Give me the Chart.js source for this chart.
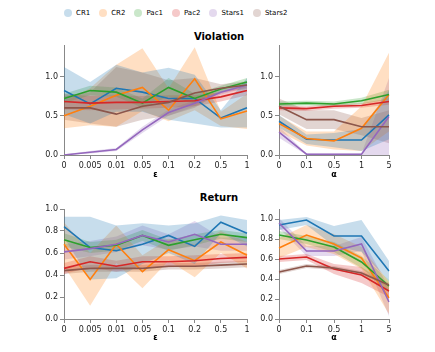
<!DOCTYPE html>
<html>
<head>
<meta charset="utf-8">
<script src="https://cdn.jsdelivr.net/npm/chart.js@4.4.1/dist/chart.umd.min.js"></script>
<style>
  body { margin: 0; background: #fff; font-family: "DejaVu Sans", sans-serif; }
  #wrap { position: relative; width: 435px; height: 352px; }
  canvas { position: absolute; }
  .title { position: absolute; font-weight: bold; font-size: 10px; transform: translateX(-50%); color: #000; }
  #legend { position: absolute; left: 64px; top: 9px; display: flex; font-size: 7px; color: #000; }
  #legend .item { display: flex; align-items: center; margin-right: 9px; }
  #legend .dot { width: 8px; height: 8px; border-radius: 50%; margin-right: 4px; }
</style>
</head>
<body>
<div id="wrap">
  <div id="legend"></div>
  <div class="title" style="left:219px; top:31px;">Violation</div>
  <div class="title" style="left:219px; top:192px;">Return</div>
  <canvas id="violEps" width="240" height="149" style="left:20px; top:35px;"></canvas>
  <canvas id="violAlpha" width="150" height="149" style="left:250px; top:35px;"></canvas>
  <canvas id="retEps" width="240" height="148" style="left:20px; top:199px;"></canvas>
  <canvas id="retAlpha" width="150" height="148" style="left:250px; top:199px;"></canvas>
</div>
<script>
// series, in legend order
const seriesNames = ["CR1", "CR2", "Pac1", "Pac2", "Stars1", "Stars2"];
const seriesColors = ["31,119,180", "255,127,14", "44,160,44", "214,39,40", "148,103,189", "140,86,75"];

const epsLabels = ["0", "0.005", "0.01", "0.05", "0.1", "0.2", "0.5", "1"];
const alphaLabels = ["0", "0.1", "0.5", "1", "5"];

// Violation vs eps
const violEpsMean = [
  [0.82, 0.65, 0.85, 0.80, 0.72, 0.72, 0.47, 0.60],
  [0.50, 0.62, 0.76, 0.86, 0.57, 0.97, 0.46, 0.56],
  [0.72, 0.82, 0.80, 0.66, 0.86, 0.72, 0.84, 0.93],
  [0.68, 0.66, 0.67, 0.67, 0.68, 0.69, 0.74, 0.82],
  [0.00, 0.035, 0.07, 0.32, 0.54, 0.66, 0.80, 0.89],
  [0.60, 0.60, 0.52, 0.62, 0.67, 0.79, 0.85, 0.89]
];
const violEpsLo = [
  [0.52, 0.40, 0.55, 0.55, 0.45, 0.40, 0.35, 0.35],
  [0.34, 0.38, 0.36, 0.56, 0.43, 0.57, 0.37, 0.33],
  [0.66, 0.76, 0.74, 0.60, 0.74, 0.66, 0.80, 0.88],
  [0.58, 0.57, 0.58, 0.59, 0.60, 0.62, 0.68, 0.76],
  [0.00, 0.02, 0.05, 0.28, 0.50, 0.62, 0.77, 0.86],
  [0.45, 0.40, 0.36, 0.45, 0.50, 0.60, 0.80, 0.84]
];
const violEpsHi = [
  [1.12, 0.93, 1.15, 1.05, 1.11, 1.02, 0.57, 0.98],
  [0.68, 0.85, 1.15, 1.36, 0.85, 1.37, 0.55, 0.78],
  [0.78, 0.88, 0.86, 0.72, 0.98, 0.78, 0.88, 0.98],
  [0.78, 0.75, 0.76, 0.75, 0.76, 0.76, 0.80, 0.88],
  [0.01, 0.05, 0.09, 0.36, 0.58, 0.70, 0.83, 0.92],
  [0.75, 0.80, 1.12, 1.05, 0.95, 0.98, 0.90, 0.94]
];

// Violation vs alpha
const violAlphaMean = [
  [0.43, 0.20, 0.19, 0.19, 0.51],
  [0.40, 0.21, 0.18, 0.34, 0.77],
  [0.65, 0.66, 0.65, 0.69, 0.77],
  [0.60, 0.59, 0.62, 0.63, 0.68],
  [0.29, 0.01, 0.01, 0.01, 0.49],
  [0.62, 0.45, 0.45, 0.36, 0.36]
];
const violAlphaLo = [
  [0.35, 0.14, 0.10, 0.05, 0.20],
  [0.30, 0.12, 0.07, 0.05, 0.30],
  [0.62, 0.63, 0.62, 0.65, 0.71],
  [0.57, 0.56, 0.59, 0.60, 0.64],
  [0.22, 0.00, 0.00, 0.00, 0.00],
  [0.52, 0.33, 0.33, 0.25, 0.15]
];
const violAlphaHi = [
  [0.51, 0.26, 0.28, 0.33, 0.82],
  [0.50, 0.30, 0.30, 0.62, 1.30],
  [0.68, 0.69, 0.68, 0.73, 0.83],
  [0.63, 0.62, 0.65, 0.66, 0.72],
  [0.36, 0.02, 0.02, 0.02, 0.98],
  [0.72, 0.57, 0.57, 0.47, 0.57]
];

// Return vs eps
const retEpsMean = [
  [0.84, 0.65, 0.62, 0.68, 0.76, 0.66, 0.88, 0.78],
  [0.68, 0.36, 0.68, 0.43, 0.63, 0.53, 0.70, 0.58],
  [0.72, 0.65, 0.67, 0.76, 0.67, 0.72, 0.77, 0.74],
  [0.46, 0.52, 0.48, 0.52, 0.52, 0.53, 0.55, 0.56],
  [0.61, 0.64, 0.68, 0.76, 0.70, 0.77, 0.68, 0.68],
  [0.44, 0.46, 0.46, 0.46, 0.48, 0.48, 0.49, 0.50]
];
const retEpsLo = [
  [0.74, 0.36, 0.37, 0.50, 0.60, 0.50, 0.78, 0.66],
  [0.48, 0.12, 0.51, 0.28, 0.53, 0.38, 0.60, 0.46],
  [0.66, 0.60, 0.62, 0.71, 0.62, 0.67, 0.73, 0.70],
  [0.41, 0.47, 0.43, 0.47, 0.47, 0.48, 0.51, 0.52],
  [0.54, 0.57, 0.61, 0.67, 0.63, 0.66, 0.62, 0.62],
  [0.41, 0.43, 0.43, 0.43, 0.45, 0.45, 0.46, 0.47]
];
const retEpsHi = [
  [0.93, 0.93, 0.85, 0.87, 0.85, 0.87, 0.94, 0.90],
  [0.88, 0.60, 0.85, 0.58, 0.73, 0.68, 0.80, 0.70],
  [0.78, 0.70, 0.72, 0.81, 0.72, 0.77, 0.81, 0.78],
  [0.51, 0.57, 0.53, 0.57, 0.57, 0.58, 0.59, 0.60],
  [0.68, 0.71, 0.75, 0.85, 0.77, 0.89, 0.74, 0.74],
  [0.47, 0.49, 0.49, 0.49, 0.51, 0.51, 0.52, 0.53]
];

// Return vs alpha
const retAlphaMean = [
  [0.94, 0.99, 0.83, 0.83, 0.48],
  [0.71, 0.84, 0.75, 0.61, 0.21],
  [0.84, 0.79, 0.72, 0.57, 0.33],
  [0.60, 0.62, 0.50, 0.44, 0.28],
  [0.96, 0.68, 0.68, 0.75, 0.17],
  [0.47, 0.53, 0.51, 0.46, 0.34]
];
const retAlphaLo = [
  [0.89, 0.94, 0.73, 0.67, 0.38],
  [0.61, 0.72, 0.65, 0.50, 0.05],
  [0.80, 0.75, 0.67, 0.51, 0.27],
  [0.57, 0.59, 0.45, 0.36, 0.22],
  [0.91, 0.63, 0.63, 0.68, 0.03],
  [0.45, 0.51, 0.49, 0.44, 0.32]
];
const retAlphaHi = [
  [0.99, 1.02, 0.93, 0.99, 0.58],
  [0.81, 0.94, 0.85, 0.72, 0.37],
  [0.88, 0.83, 0.77, 0.63, 0.39],
  [0.63, 0.65, 0.55, 0.52, 0.34],
  [1.01, 0.73, 0.73, 0.82, 0.31],
  [0.49, 0.55, 0.53, 0.48, 0.36]
];

// legend
const legendEl = document.getElementById("legend");
seriesNames.forEach((name, i) => {
  const item = document.createElement("div");
  item.className = "item";
  item.innerHTML = '<span class="dot" style="background:rgba(' + seriesColors[i] + ',0.25)"></span>' + name;
  legendEl.appendChild(item);
});

const tickFont = { family: "DejaVu Sans", size: 8 };
const axisColor = "#888";

function makeChart(id, labels, mean, lo, hi, opts) {
  const datasets = [];
  seriesNames.forEach((name, i) => {
    const c = seriesColors[i];
    // band: upper edge, then lower edge filled back to it
    datasets.push({
      data: hi[i], borderWidth: 0, pointRadius: 0, fill: false, order: 20
    });
    datasets.push({
      data: lo[i], borderWidth: 0, pointRadius: 0, fill: "-1",
      backgroundColor: "rgba(" + c + ",0.25)", order: 20
    });
  });
  seriesNames.forEach((name, i) => {
    datasets.push({
      label: name, data: mean[i], borderColor: "rgb(" + seriesColors[i] + ")",
      borderWidth: 1.6, pointRadius: 0, fill: false, tension: 0, order: 10 - i
    });
  });

  return new Chart(document.getElementById(id), {
    type: "line",
    data: { labels, datasets },
    options: {
      responsive: false,
      animation: false,
      layout: { padding: { top: 10, right: opts.padRight, bottom: 0, left: 0 } },
      plugins: {
        legend: { display: false },
        tooltip: { enabled: false },
        filler: { drawTime: "beforeDatasetsDraw" }
      },
      scales: {
        x: {
          type: "category",
          offset: false,
          grid: { drawOnChartArea: false, color: axisColor, tickLength: 4, offset: false },
          border: { color: axisColor },
          ticks: { font: tickFont, color: "#222", maxRotation: 0, autoSkip: false, padding: 2 },
          title: { display: true, text: opts.xTitle, font: { family: "DejaVu Sans", size: 8, weight: "bold" }, color: "#000", padding: { top: 2, bottom: 4 } },
          afterFit: (s) => { s.height = opts.xHeight; }
        },
        y: {
          min: 0,
          max: opts.yMax,
          grid: { drawOnChartArea: false, color: axisColor, tickLength: 4 },
          border: { color: axisColor },
          ticks: {
            font: tickFont, color: "#222", stepSize: opts.yStep, includeBounds: false, padding: 2,
            callback: (v) => v.toFixed(1)
          },
          afterFit: (s) => { s.width = opts.yWidth; }
        }
      }
    }
  });
}

makeChart("violEps", epsLabels, violEpsMean, violEpsLo, violEpsHi,
  { xTitle: "ε", yMax: 1.4, yStep: 0.5, yWidth: 44, padRight: 13, xHeight: 29 });
makeChart("violAlpha", alphaLabels, violAlphaMean, violAlphaLo, violAlphaHi,
  { xTitle: "α", yMax: 1.4, yStep: 0.5, yWidth: 29, padRight: 11, xHeight: 29 });
makeChart("retEps", epsLabels, retEpsMean, retEpsLo, retEpsHi,
  { xTitle: "ε", yMax: 1.0, yStep: 0.2, yWidth: 44, padRight: 13, xHeight: 28 });
makeChart("retAlpha", alphaLabels, retAlphaMean, retAlphaLo, retAlphaHi,
  { xTitle: "α", yMax: 1.1, yStep: 0.2, yWidth: 29, padRight: 11, xHeight: 28 });
</script>
</body>
</html>
